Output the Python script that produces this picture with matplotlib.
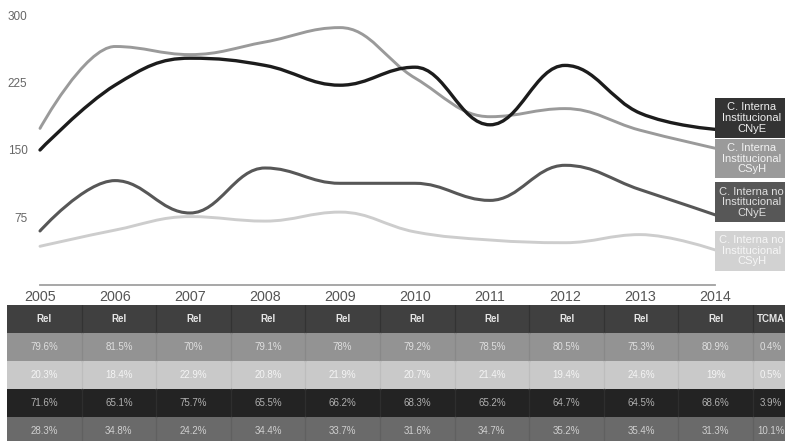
import matplotlib
matplotlib.use("Agg")
import matplotlib.pyplot as plt
from matplotlib.path import Path
from matplotlib.patches import PathPatch, Rectangle

plt.rcParams["font.family"] = ["Liberation Sans", "DejaVu Sans"]

# ---- data -------------------------------------------------------------
years = [2005, 2006, 2007, 2008, 2009, 2010, 2011, 2012, 2013, 2014]
inst_cnye = [150, 222, 252, 244, 222, 242, 178, 244, 191, 173]
inst_csyh = [174, 265, 256, 270, 286, 230, 187, 196, 172, 152]
noinst_cnye = [60, 116, 80, 130, 113, 113, 94, 133, 106, 78]
noinst_csyh = [43, 61, 76, 71, 81, 59, 50, 47, 56, 39]

series_labels = [
    "C. Interna\nInstitucional\nCNyE",
    "C. Interna\nInstitucional\nCSyH",
    "C. Interna no\nInstitucional\nCNyE",
    "C. Interna no\nInstitucional\nCSyH",
]
y_ticks = [75, 150, 225, 300]

table_header = ["Rel"] * 10 + ["TCMA"]
rel_inst_csyh = ["79.6%", "81.5%", "70%", "79.1%", "78%", "79.2%", "78.5%",
                 "80.5%", "75.3%", "80.9%", "0.4%"]
rel_noinst_csyh = ["20.3%", "18.4%", "22.9%", "20.8%", "21.9%", "20.7%",
                   "21.4%", "19.4%", "24.6%", "19%", "0.5%"]
rel_inst_cnye = ["71.6%", "65.1%", "75.7%", "65.5%", "66.2%", "68.3%",
                 "65.2%", "64.7%", "64.5%", "68.6%", "3.9%"]
rel_noinst_cnye = ["28.3%", "34.8%", "24.2%", "34.4%", "33.7%", "31.6%",
                   "34.7%", "35.2%", "35.4%", "31.3%", "10.1%"]

# ---- styling ------------------------------------------------------------
line_styles = [
    dict(color="#1c1c1c", lw=2.4, z=5),   # inst CNyE
    dict(color="#9a9a9a", lw=2.1, z=4),   # inst CSyH
    dict(color="#575757", lw=2.2, z=3),   # no inst CNyE
    dict(color="#cdcdcd", lw=2.1, z=2),   # no inst CSyH
]
box_styles = [("#333333", "#eeeeee"), ("#9a9a9a", "#f2f2f2"),
              ("#575757", "#e0e0e0"), ("#d2d2d2", "#f6f6f6")]
label_centers = [185.5, 140.5, 92.0, 38.0]


def spline_path(xs, ys, smoothing=1.5):
    """Smooth curve through the points built from cubic Bezier segments."""
    n = len(xs)
    verts = [(xs[0], ys[0])]
    codes = [Path.MOVETO]
    prev_right = (xs[0], ys[0])
    d = smoothing + 1
    for i in range(1, n):
        x, y = xs[i], ys[i]
        if i < n - 1:
            lx, ly = xs[i - 1], ys[i - 1]
            nx, ny = xs[i + 1], ys[i + 1]
            lcx = (smoothing * x + lx) / d
            lcy = (smoothing * y + ly) / d
            rcx = (smoothing * x + nx) / d
            rcy = (smoothing * y + ny) / d
            corr = (rcy - lcy) * (rcx - x) / (rcx - lcx) + y - rcy
            lcy += corr
            rcy += corr
            if lcy > ly and lcy > y:
                lcy = max(ly, y); rcy = 2 * y - lcy
            elif lcy < ly and lcy < y:
                lcy = min(ly, y); rcy = 2 * y - lcy
            if rcy > ny and rcy > y:
                rcy = max(ny, y); lcy = 2 * y - rcy
            elif rcy < ny and rcy < y:
                rcy = min(ny, y); lcy = 2 * y - rcy
            left, right = (lcx, lcy), (rcx, rcy)
        else:
            left, right = (x, y), None
        verts += [prev_right, left, (x, y)]
        codes += [Path.CURVE4] * 3
        prev_right = right
    return Path(verts, codes)


W, H = 785, 441
fig = plt.figure(figsize=(W / 100, H / 100), dpi=100)
fig.patch.set_facecolor("white")

# ---- line chart ---------------------------------------------------------
ax = fig.add_axes([40 / W, 156 / H, 675 / W, 270 / H])
ax.set_xlim(years[0], years[-1])
ax.set_ylim(0, 300)
for s in ("top", "right", "left"):
    ax.spines[s].set_visible(False)
ax.spines["bottom"].set_color("#a0a0a0")
ax.spines["bottom"].set_linewidth(1.3)
ax.set_facecolor("none")

ax.set_yticks(y_ticks)
ax.set_yticklabels([str(v) for v in y_ticks])
ax.set_xticks(years)
ax.set_xticklabels([str(y) for y in years])
ax.tick_params(axis="y", length=0, pad=9, labelsize=8.5, labelcolor="#666666")
ax.tick_params(axis="x", length=0, pad=3.5, labelsize=10.3,
               labelcolor="#555555")

all_series = [inst_cnye, inst_csyh, noinst_cnye, noinst_csyh]
for vals, st in zip(all_series, line_styles):
    patch = PathPatch(spline_path(years, vals), facecolor="none",
                      edgecolor=st["color"], lw=st["lw"], zorder=st["z"],
                      capstyle="round", joinstyle="round", clip_on=False)
    ax.add_patch(patch)

# end-of-line label boxes
box_w = 1.03          # in years
box_h = 44.0          # in value units
for text, yc, (bg, fg) in zip(series_labels, label_centers, box_styles):
    ax.add_patch(Rectangle((years[-1], yc - box_h / 2), box_w, box_h,
                           facecolor=bg, edgecolor="none", zorder=6,
                           clip_on=False))
    ax.text(years[-1] + 0.49, yc, text, ha="center", va="center",
            fontsize=8.0, color=fg, linespacing=1.08, zorder=7,
            clip_on=False)

# ---- table --------------------------------------------------------------
rows = [table_header, rel_inst_csyh, rel_noinst_csyh, rel_inst_cnye,
        rel_noinst_cnye]
row_bg = ["#404040", "#939393", "#c9c9c9", "#232323", "#6a6a6a"]
row_fg = ["#e6e6e6", "#dedede", "#f4f4f4", "#b0b0b0", "#cfcfcf"]
row_div = ["#333333", "#888888", "#bdbdbd", "#2e2e2e", "#606060"]

col_px = 74.6                      # width of a year column in pixels
last_w = 36 / col_px               # narrower TCMA column, in column units
col_left = list(range(len(table_header)))
col_width = [1.0] * (len(table_header) - 1) + [last_w]
total_w = sum(col_width)

tax = fig.add_axes([7 / W, (H - 445) / H, total_w * col_px / W, 140 / H])
tax.set_xlim(0, total_w)
tax.set_ylim(len(rows), 0)
tax.axis("off")
for r, (cells, bg, fg, dv) in enumerate(zip(rows, row_bg, row_fg, row_div)):
    tax.add_patch(Rectangle((0, r), total_w, 1, facecolor=bg,
                            edgecolor="none", zorder=1, clip_on=False))
    for c, txt in enumerate(cells):
        if c > 0:
            tax.plot([c, c], [r, r + 1], color=dv, lw=0.9, zorder=2)
        tax.text(col_left[c] + col_width[c] / 2, r + 0.5, txt,
                 ha="center", va="center", fontsize=7.0, color=fg, zorder=3,
                 fontweight="bold" if r == 0 else "normal")

fig.savefig("out.png", dpi=100)
